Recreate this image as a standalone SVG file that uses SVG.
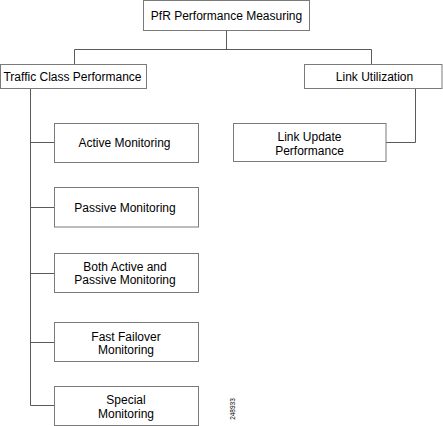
<svg xmlns="http://www.w3.org/2000/svg" width="443" height="426" viewBox="0 0 443 426">
<style>
.box{fill:#fff;stroke:#7a7a7a;stroke-width:1}
.lbl{font-family:"Liberation Sans",Arial,sans-serif;font-size:12px;fill:#000;text-anchor:middle}
.conn{fill:none;stroke:#5a5a5a;stroke-width:1}
</style>
<rect width="443" height="426" fill="#fff"/>
<g id="connectors">
<path class="conn" d="M226.5 30V49.5M74.5 49.5H371.5M74.5 49.5V64M371.5 49.5V64"/>
<path class="conn" d="M30.5 88V405.5H55M30.5 142.5H55M30.5 207.5H55M30.5 273.5H55M30.5 342.5H55"/>
<path class="conn" d="M415.5 88V142.5H386"/>
</g>
<g id="n-pfr"><rect class="box" x="143.5" y="0.5" width="166" height="30"/><text class="lbl" x="226.5" y="19.5">PfR Performance Measuring</text></g>
<g id="n-traffic"><rect class="box" x="0.5" y="64.5" width="146" height="24"/><text class="lbl" x="72.5" y="81">Traffic Class Performance</text></g>
<g id="n-link"><rect class="box" x="304.5" y="64.5" width="137.5" height="24"/><text class="lbl" x="374.5" y="81">Link Utilization</text></g>
<g id="n-active"><rect class="box" x="54.5" y="123.5" width="144" height="39"/><text class="lbl" x="124.5" y="146.5">Active Monitoring</text></g>
<g id="n-passive"><rect class="box" x="54.5" y="187.5" width="144" height="39.5"/><text class="lbl" x="125" y="211.5">Passive Monitoring</text></g>
<g id="n-both"><rect class="box" x="54.5" y="253.5" width="144" height="39"/><text class="lbl" x="125" y="270.5">Both Active and</text><text class="lbl" x="125" y="283.5">Passive Monitoring</text></g>
<g id="n-fast"><rect class="box" x="54.5" y="322.5" width="144" height="39"/><text class="lbl" x="126" y="340.5">Fast Failover</text><text class="lbl" x="126" y="353.5">Monitoring</text></g>
<g id="n-special"><rect class="box" x="54.5" y="386.5" width="144" height="39"/><text class="lbl" x="126" y="403.5">Special</text><text class="lbl" x="126" y="417.5">Monitoring</text></g>
<g id="n-linkupdate"><rect class="box" x="233.5" y="123.5" width="152.5" height="38"/><text class="lbl" x="309.5" y="141">Link Update</text><text class="lbl" x="309.5" y="154.5">Performance</text></g>
<text x="234.5" y="409" font-family="Liberation Sans,Arial,sans-serif" font-size="6.5" text-anchor="middle" transform="rotate(-90 234.5 409)">248933</text>
</svg>
